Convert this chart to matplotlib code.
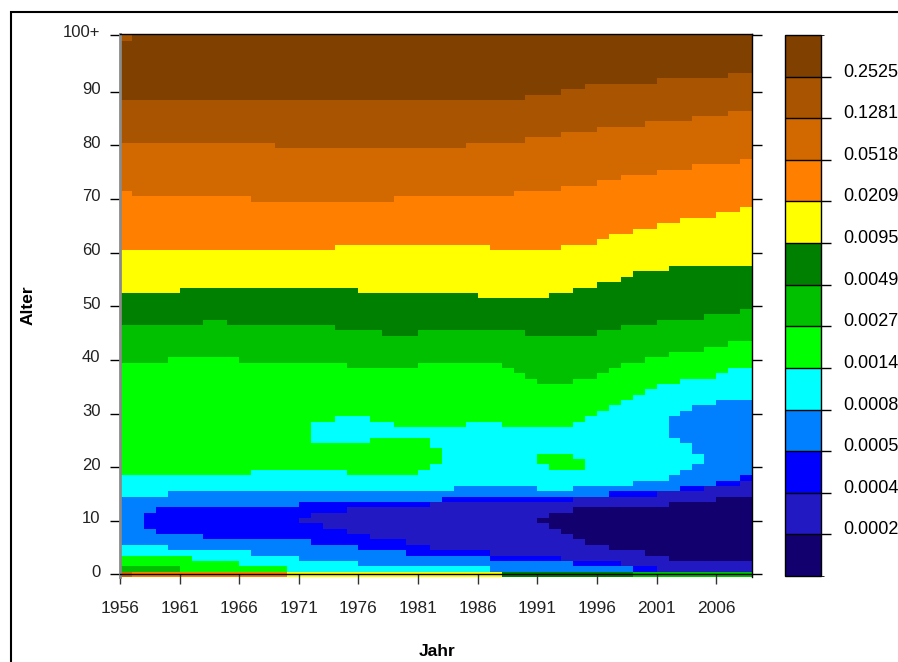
import numpy as np
import matplotlib
matplotlib.use('Agg')
import matplotlib.pyplot as plt
from matplotlib.colors import ListedColormap, BoundaryNorm
from matplotlib.patches import Rectangle
from matplotlib.transforms import ScaledTranslation

# Lexis surface: colour class of the death rate per calendar year and age
years = np.arange(1956, 2009)
ages = np.arange(0, 101)

# colour classes, lowest rate (0) to highest (12)
class_colors = ['#12006E', '#2219C2', '#0000FF', '#0080FF', '#00FFFF', '#00FF00',
                '#00C000', '#008000', '#FFFF00', '#FF8000', '#D26900', '#A85400', '#804000']
cbar_labels = ['0.0002', '0.0004', '0.0005', '0.0008', '0.0014', '0.0027',
               '0.0049', '0.0095', '0.0209', '0.0518', '0.1281', '0.2525']

# young ages, row by row: (first year, class)
lower_rows = {
    0: [(1956, 10), (1957, 9), (1970, 8), (1988, 7), (1999, 6)],
    1: [(1956, 6), (1961, 5), (1970, 4), (1987, 3), (1999, 2), (2001, 1)],
    2: [(1956, 5), (1966, 4), (1976, 3), (1994, 2), (1998, 1)],
    3: [(1956, 5), (1962, 4), (1971, 3), (1987, 2), (1993, 1), (2002, 0)],
    4: [(1956, 4), (1967, 3), (1980, 2), (1987, 1), (2000, 0)],
    5: [(1956, 4), (1960, 3), (1976, 2), (1982, 1), (1997, 0)],
    6: [(1956, 3), (1972, 2), (1980, 1), (1995, 0)],
    7: [(1956, 3), (1963, 2), (1977, 1), (1994, 0)],
    8: [(1956, 3), (1959, 2), (1975, 1), (1993, 0)],
    9: [(1956, 3), (1958, 2), (1973, 1), (1992, 0)],
    10: [(1956, 3), (1958, 2), (1971, 1), (1991, 0)],
    11: [(1956, 3), (1958, 2), (1972, 1), (1992, 0)],
    12: [(1956, 3), (1959, 2), (1975, 1), (1994, 0)],
    13: [(1956, 3), (1971, 2), (1982, 1), (2002, 0)],
    14: [(1956, 3), (1983, 2), (1994, 1), (2006, 0)],
    15: [(1956, 4), (1960, 3), (1997, 2), (2001, 1)],
    16: [(1956, 4), (1984, 3), (1991, 4), (1994, 3), (2003, 2), (2005, 1)],
    17: [(1956, 4), (1999, 3), (2006, 2), (2008, 1)],
    18: [(1956, 4), (2002, 3), (2008, 2)],
    19: [(1956, 5), (1967, 4), (1975, 5), (1981, 4), (2003, 3)],
    20: [(1956, 5), (1982, 4), (1992, 5), (1995, 4), (2004, 3)],
    21: [(1956, 5), (1983, 4), (1991, 5), (1995, 4), (2005, 3)],
    22: [(1956, 5), (1983, 4), (1991, 5), (1994, 4), (2005, 3)],
    23: [(1956, 5), (1983, 4), (2004, 3)],
    24: [(1956, 5), (1982, 4), (2004, 3)],
    25: [(1956, 5), (1972, 4), (1977, 5), (1982, 4), (2003, 3)],
    26: [(1956, 5), (1972, 4), (2002, 3)],
    27: [(1956, 5), (1972, 4), (2002, 3)],
    28: [(1956, 5), (1972, 4), (1979, 5), (1985, 4), (1988, 5), (1994, 4), (2002, 3)],
    29: [(1956, 5), (1974, 4), (1977, 5), (1995, 4), (2002, 3)],
    30: [(1956, 5), (1996, 4), (2003, 3)],
    31: [(1956, 5), (1997, 4), (2004, 3)],
    32: [(1956, 5), (1998, 4), (2006, 3)],
    33: [(1956, 5), (1999, 4)],
    34: [(1956, 5), (2000, 4)],
    35: [(1956, 5), (2001, 4)],
    36: [(1956, 5), (2003, 4)],
    37: [(1956, 5), (2006, 4)],
    38: [(1956, 5), (2007, 4)],
}

# older ages: first age of class k, as (first year, age) steps
upper_bounds = {
    6: [(1956, 40), (1960, 41), (1966, 40), (1975, 39), (1981, 40), (1988, 39), (1989, 38),
        (1990, 37), (1991, 36), (1994, 37), (1996, 38), (1997, 39), (1998, 40), (2000, 41),
        (2002, 42), (2005, 43), (2007, 44)],
    7: [(1956, 47), (1963, 48), (1965, 47), (1974, 46), (1978, 45), (1981, 46), (1990, 45),
        (1996, 46), (1998, 47), (2001, 48), (2005, 49), (2008, 50)],
    8: [(1956, 53), (1961, 54), (1976, 53), (1986, 52), (1992, 53), (1994, 54), (1996, 55),
        (1998, 56), (1999, 57), (2002, 58)],
    9: [(1956, 61), (1974, 62), (1987, 61), (1993, 62), (1996, 63), (1997, 64), (1999, 65),
        (2001, 66), (2003, 67), (2006, 68), (2008, 69)],
    10: [(1956, 72), (1957, 71), (1967, 70), (1979, 71), (1989, 72), (1993, 73), (1996, 74),
         (1998, 75), (2001, 76), (2004, 77), (2008, 78)],
    11: [(1956, 81), (1969, 80), (1985, 81), (1990, 82), (1993, 83), (1996, 84), (2000, 85),
         (2004, 86), (2007, 87)],
    12: [(1956, 89), (1990, 90), (1993, 91), (1995, 92), (2001, 93), (2007, 94)],
}

# single cells that differ: (year, age, class)
cell_overrides = [(1956, 100, 11)]


def steps_to_years(steps):
    out = np.zeros(len(years))
    for start, val in steps:
        out[years >= start] = val
    return out


grid = np.full((len(ages), len(years)), 5)
for age, runs in lower_rows.items():
    for start, cls in runs:
        grid[age, years >= start] = cls
for k in sorted(upper_bounds):
    first_age = steps_to_years(upper_bounds[k])
    grid[ages[:, None] >= first_age[None, :]] = k
for yr, age, cls in cell_overrides:
    grid[age, yr - years[0]] = cls

x_edges = np.append(years, years[-1] + 1)
y_edges = np.append(ages - 0.5, 100.8)

W, H = 898, 662
fig = plt.figure(figsize=(W / 100, H / 100), dpi=100)
ax = fig.add_axes([120 / W, (H - 577) / H, 632 / W, 543 / H])

cmap = ListedColormap(class_colors)
norm = BoundaryNorm(np.arange(-0.5, 13.5, 1), cmap.N)
mesh = ax.pcolormesh(x_edges, y_edges, grid, cmap=cmap, norm=norm)

ax.set_xlim(1956, 2009)
ax.set_ylim(-0.5, 100.8)
ax.spines['bottom'].set_position(('data', 0))
ax.spines['left'].set_color('#8a8a8a')
ax.spines['left'].set_linewidth(2)
for s in ['top', 'right', 'bottom']:
    ax.spines[s].set_color('black')
    ax.spines[s].set_linewidth(1)

narrow = ['Liberation Sans Narrow', 'Liberation Sans']
ax.set_xticks(np.arange(1956, 2007, 5))
ax.set_xticklabels([str(y) for y in range(1956, 2007, 5)], family=narrow, fontsize=12.5, color='#222222')
ax.set_yticks(list(range(0, 100, 10)) + [100.7])
ax.set_yticklabels([str(a) for a in range(0, 100, 10)] + ['100+'], family=narrow, fontsize=12, color='#222222')
ax.tick_params(axis='x', length=7.5, width=1, pad=12, color='#333333')
ax.tick_params(axis='y', length=7.5, width=1, pad=6.5, right=True, color='black')

shift = ScaledTranslation(0, 2.6 / 72, fig.dpi_scale_trans)
for lab in ax.get_yticklabels():
    lab.set_transform(lab.get_transform() + shift)

fig.text(28 / W, 1 - 305 / H, 'Alter', rotation=90, ha='center', va='center',
         family='Liberation Sans', weight='bold', fontsize=12.5)
fig.text(437 / W, 1 - 652 / H, 'Jahr', ha='center', va='center',
         family='Liberation Sans', weight='bold', fontsize=12.5)

# colour key
cax = fig.add_axes([785 / W, (H - 576) / H, 36 / W, 541 / H])
cb = fig.colorbar(mesh, cax=cax, ticks=np.arange(0.5, 12, 1), drawedges=True)
cb.set_ticklabels(cbar_labels)
cb.outline.set_linewidth(1)
cb.outline.set_edgecolor('black')
cb.dividers.set_color('black')
cb.dividers.set_linewidth(1)
cax.tick_params(length=7.5, width=1, pad=8.5, labelsize=13, colors='black')
for lab in cax.get_yticklabels():
    lab.set_family('Liberation Sans')
    lab.set_verticalalignment('baseline')

# frame around the whole chart
fig.add_artist(Rectangle((11 / W, -0.05), 1.1, 1.05 - 12 / H, transform=fig.transFigure,
                         fill=False, edgecolor='black', linewidth=1.5, clip_on=False))

fig.savefig('out.png', dpi=100)
